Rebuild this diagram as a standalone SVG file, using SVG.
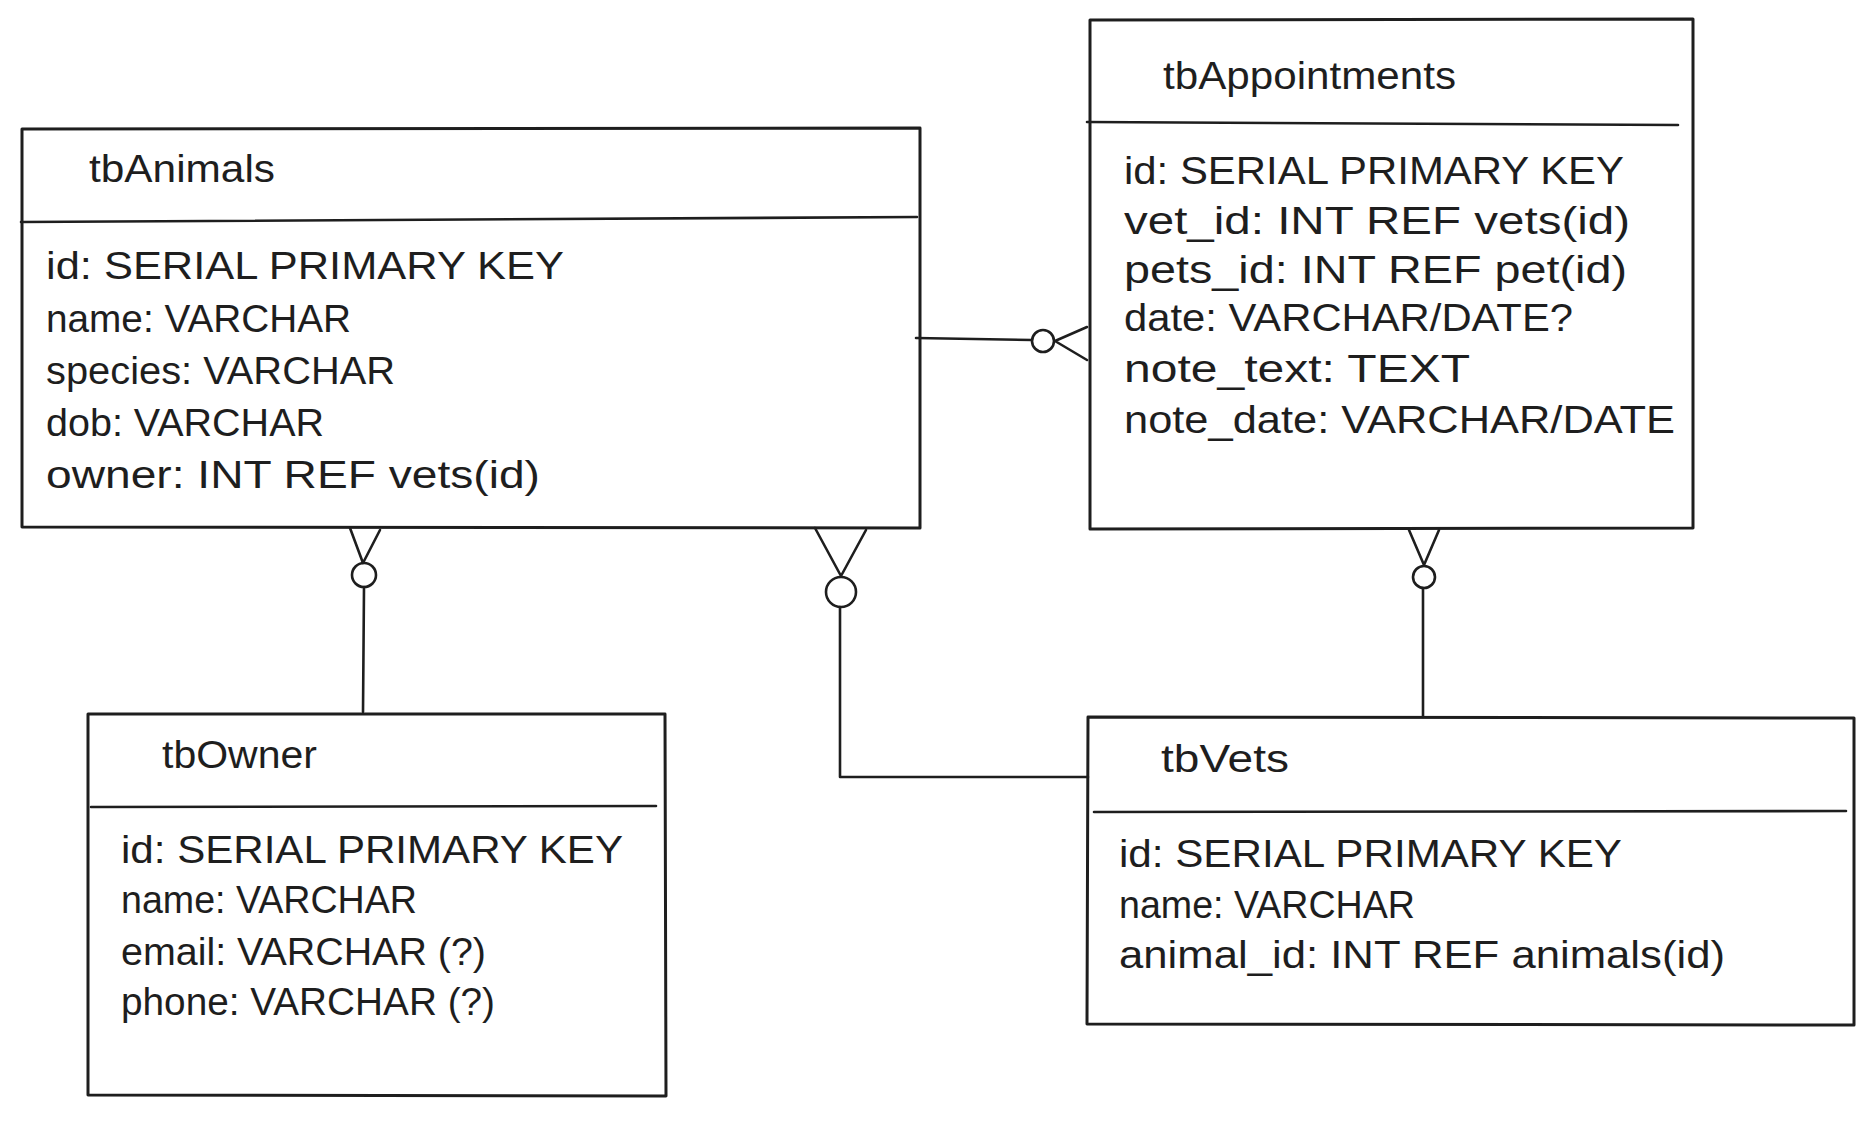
<svg xmlns="http://www.w3.org/2000/svg" width="1873" height="1147" viewBox="0 0 1873 1147">
<style>
.bx{fill:none;stroke:#1e1e1e;stroke-width:3;stroke-linecap:round;stroke-linejoin:round}
.ln{fill:none;stroke:#1e1e1e;stroke-width:2.6;stroke-linecap:round;stroke-linejoin:round}
.t{font-family:"Liberation Sans","DejaVu Sans",sans-serif;font-size:38px;fill:#1e1e1e}
</style>
<rect x="0" y="0" width="1873" height="1147" fill="#ffffff"/>
<g id="tbAnimals">
<path class="bx" d="M22,129 L920,128 L920,528 L22,527 Z"/>
<path class="ln" d="M21,222 L917,217"/>
<text class="t" x="89" y="182" textLength="186" lengthAdjust="spacingAndGlyphs">tbAnimals</text>
<text class="t" x="46" y="279" textLength="518" lengthAdjust="spacingAndGlyphs">id: SERIAL PRIMARY KEY</text>
<text class="t" x="46" y="332" textLength="305" lengthAdjust="spacingAndGlyphs">name: VARCHAR</text>
<text class="t" x="46" y="384" textLength="349" lengthAdjust="spacingAndGlyphs">species: VARCHAR</text>
<text class="t" x="46" y="436" textLength="278" lengthAdjust="spacingAndGlyphs">dob: VARCHAR</text>
<text class="t" x="46" y="488" textLength="494" lengthAdjust="spacingAndGlyphs">owner: INT REF vets(id)</text>
</g>
<g id="tbAppointments">
<path class="bx" d="M1090,20 L1693,19 L1693,528 L1090,529 Z"/>
<path class="ln" d="M1087,122 L1678,125"/>
<text class="t" x="1163" y="89" textLength="293" lengthAdjust="spacingAndGlyphs">tbAppointments</text>
<text class="t" x="1124" y="184" textLength="500" lengthAdjust="spacingAndGlyphs">id: SERIAL PRIMARY KEY</text>
<text class="t" x="1124" y="234" textLength="506" lengthAdjust="spacingAndGlyphs">vet_id: INT REF vets(id)</text>
<text class="t" x="1124" y="283" textLength="503" lengthAdjust="spacingAndGlyphs">pets_id: INT REF pet(id)</text>
<text class="t" x="1124" y="331" textLength="449" lengthAdjust="spacingAndGlyphs">date: VARCHAR/DATE?</text>
<text class="t" x="1124" y="382" textLength="346" lengthAdjust="spacingAndGlyphs">note_text: TEXT</text>
<text class="t" x="1124" y="433" textLength="551" lengthAdjust="spacingAndGlyphs">note_date: VARCHAR/DATE</text>
</g>
<g id="tbOwner">
<path class="bx" d="M88,714 L665,714 L666,1096 L88,1095 Z"/>
<path class="ln" d="M91,807 L656,806"/>
<text class="t" x="162" y="768" textLength="155" lengthAdjust="spacingAndGlyphs">tbOwner</text>
<text class="t" x="121" y="863" textLength="502" lengthAdjust="spacingAndGlyphs">id: SERIAL PRIMARY KEY</text>
<text class="t" x="121" y="913" textLength="296" lengthAdjust="spacingAndGlyphs">name: VARCHAR</text>
<text class="t" x="121" y="965" textLength="365" lengthAdjust="spacingAndGlyphs">email: VARCHAR (?)</text>
<text class="t" x="121" y="1015" textLength="374" lengthAdjust="spacingAndGlyphs">phone: VARCHAR (?)</text>
</g>
<g id="tbVets">
<path class="bx" d="M1088,717 L1854,718 L1854,1025 L1087,1024 Z"/>
<path class="ln" d="M1094,812 L1846,811"/>
<text class="t" x="1161" y="772" textLength="128" lengthAdjust="spacingAndGlyphs">tbVets</text>
<text class="t" x="1119" y="867" textLength="503" lengthAdjust="spacingAndGlyphs">id: SERIAL PRIMARY KEY</text>
<text class="t" x="1119" y="918" textLength="296" lengthAdjust="spacingAndGlyphs">name: VARCHAR</text>
<text class="t" x="1119" y="968" textLength="606" lengthAdjust="spacingAndGlyphs">animal_id: INT REF animals(id)</text>
</g>
<g id="connectors">
<g id="animals-appointments">
<path class="ln" d="M916,338 L1032,340"/>
<circle class="ln" cx="1043" cy="341" r="11"/>
<path class="ln" d="M1087,327 L1055,341 L1087,360"/>
</g>
<g id="animals-owner">
<path class="ln" d="M350,528 L363,563 L380,530"/>
<circle class="ln" cx="364" cy="575" r="12"/>
<path class="ln" d="M364,587 L363,712"/>
</g>
<g id="animals-vets">
<path class="ln" d="M815,528 L841,576 L866,530"/>
<circle class="ln" cx="841" cy="592" r="15"/>
<path class="ln" d="M840,607 L840,777 L1088,777"/>
</g>
<g id="appointments-vets">
<path class="ln" d="M1409,530 L1424,565 L1439,530"/>
<circle class="ln" cx="1424" cy="577" r="11"/>
<path class="ln" d="M1423,588 L1423,716"/>
</g>
</g>
</svg>
